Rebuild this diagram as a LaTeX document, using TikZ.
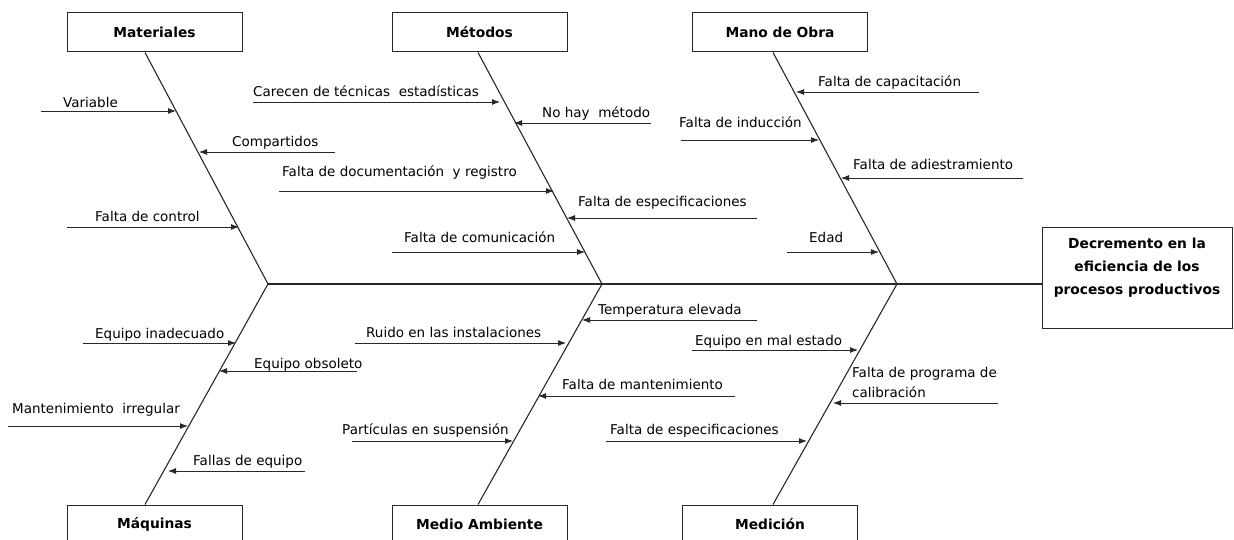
\documentclass[tikz,border=0pt]{standalone}
\usepackage{fontspec}
\setmainfont{DejaVu Sans}
\usetikzlibrary{arrows.meta}

\begin{document}
\begin{tikzpicture}[x=1pt,y=-1pt,
  categoria/.style={draw=linecolor,line width=1pt,minimum width=175pt,minimum height=39pt,inner sep=0pt,font=\fontsize{13.8}{16}\selectfont\bfseries},
  causa/.style={anchor=base west,inner sep=0pt,align=left,font=\fontsize{13.5}{20}\selectfont},
  espina/.style={draw=linecolor,line width=1.1pt},
  flecha/.style={draw=linecolor,line width=0.9pt,-{Latex[length=8pt,width=6pt]}}]
\definecolor{linecolor}{RGB}{40,40,40}
\clip (0,0) rectangle (1234,540);
% categorias
\node [categoria] (materiales) at (154.5,32.5) {Materiales};
\node [categoria] (metodos) at (479.5,32.5) {Métodos};
\node [categoria] (manoobra) at (780,32.5) {Mano de Obra};
\node [categoria] (maquinas) at (154.5,524.5) {Máquinas};
\node [categoria] (medioamb) at (479.5,524.5) {Medio Ambiente};
\node [categoria] (medicion) at (770,524.5) {Medición};
\node [draw=linecolor,line width=1pt,minimum width=190pt,minimum height=100pt,inner sep=0pt,align=center,font=\fontsize{13.8}{23}\selectfont\bfseries] (efecto) at (1137,278) {Decremento en la\\eficiencia de los\\procesos productivos\\ \mbox{}};
% espinas
\coordinate (j1) at (268,284);
\coordinate (j2) at (602,284);
\coordinate (j3) at (897,284);
\draw [espina] (j1) -- (j1 -| efecto.west);
\draw [espina] ([xshift=-9.5pt]materiales.south) -- (j1) -- ([xshift=-9.5pt]maquinas.north);
\draw [espina] ([xshift=-1.5pt]metodos.south) -- (j2) -- ([xshift=-1.5pt]medioamb.north);
\draw [espina] ([xshift=-7pt]manoobra.south) -- (j3) -- ([xshift=3pt]medicion.north);
% Materiales
\coordinate (variable-a) at (41,111); \coordinate (variable-b) at (176,111);
\draw [flecha] (variable-a) -- (variable-b);
\node [causa] (variable) at (63,108) {Variable};
\coordinate (compartidos-a) at (335,152); \coordinate (compartidos-b) at (199,152);
\draw [flecha] (compartidos-a) -- (compartidos-b);
\node [causa] (compartidos) at (232,147) {Compartidos};
\coordinate (control-a) at (67,227); \coordinate (control-b) at (239,227);
\draw [flecha] (control-a) -- (control-b);
\node [causa] (control) at (95,222) {Falta de control};
% Metodos
\coordinate (tecnicas-a) at (253,102); \coordinate (tecnicas-b) at (500,102);
\draw [flecha] (tecnicas-a) -- (tecnicas-b);
\node [causa] (tecnicas) at (253,97) {Carecen de técnicas~ estadísticas};
\coordinate (metodo-a) at (651,123); \coordinate (metodo-b) at (514,123);
\draw [flecha] (metodo-a) -- (metodo-b);
\node [causa] (metodo) at (542,118) {No hay~ método};
\coordinate (registro-a) at (279,191); \coordinate (registro-b) at (554,191);
\draw [flecha] (registro-a) -- (registro-b);
\node [causa] (registro) at (282,177) {Falta de documentación~ y registro};
\coordinate (espmet-a) at (757,218); \coordinate (espmet-b) at (567,218);
\draw [flecha] (espmet-a) -- (espmet-b);
\node [causa] (espmet) at (578,207) {Falta de especificaciones};
\coordinate (comunic-a) at (392,252); \coordinate (comunic-b) at (585,252);
\draw [flecha] (comunic-a) -- (comunic-b);
\node [causa] (comunic) at (404,243) {Falta de comunicación};
% Mano de Obra
\coordinate (capacit-a) at (979,92); \coordinate (capacit-b) at (796,92);
\draw [flecha] (capacit-a) -- (capacit-b);
\node [causa] (capacit) at (818,87) {Falta de capacitación};
\coordinate (induccion-a) at (681,140); \coordinate (induccion-b) at (819,140);
\draw [flecha] (induccion-a) -- (induccion-b);
\node [causa] (induccion) at (679,128) {Falta de inducción};
\coordinate (adiestr-a) at (1023,178); \coordinate (adiestr-b) at (841,178);
\draw [flecha] (adiestr-a) -- (adiestr-b);
\node [causa] (adiestr) at (853,170) {Falta de adiestramiento};
\coordinate (edad-a) at (787,252); \coordinate (edad-b) at (879,252);
\draw [flecha] (edad-a) -- (edad-b);
\node [causa] (edad) at (809,243) {Edad};
% Maquinas
\coordinate (inadec-a) at (83,343); \coordinate (inadec-b) at (236,343);
\draw [flecha] (inadec-a) -- (inadec-b);
\node [causa] (inadec) at (95,338) {Equipo inadecuado};
\coordinate (obsoleto-a) at (357,371); \coordinate (obsoleto-b) at (219,371);
\draw [flecha] (obsoleto-a) -- (obsoleto-b);
\node [causa] (obsoleto) at (254,368) {Equipo obsoleto};
\coordinate (irregular-a) at (8,426); \coordinate (irregular-b) at (188,426);
\draw [flecha] (irregular-a) -- (irregular-b);
\node [causa] (irregular) at (12,413) {Mantenimiento~ irregular};
\coordinate (fallas-a) at (305,471); \coordinate (fallas-b) at (168,471);
\draw [flecha] (fallas-a) -- (fallas-b);
\node [causa] (fallas) at (193,465) {Fallas de equipo};
% Medio Ambiente
\coordinate (temper-a) at (757,320); \coordinate (temper-b) at (582,320);
\draw [flecha] (temper-a) -- (temper-b);
\node [causa] (temper) at (598,314) {Temperatura elevada};
\coordinate (ruido-a) at (355,343); \coordinate (ruido-b) at (566,343);
\draw [flecha] (ruido-a) -- (ruido-b);
\node [causa] (ruido) at (366,337) {Ruido en las instalaciones};
\coordinate (manten-a) at (735,396); \coordinate (manten-b) at (538,396);
\draw [flecha] (manten-a) -- (manten-b);
\node [causa] (manten) at (562,389) {Falta de mantenimiento};
\coordinate (particulas-a) at (352,441); \coordinate (particulas-b) at (513,441);
\draw [flecha] (particulas-a) -- (particulas-b);
\node [causa] (particulas) at (342,434) {Partículas en suspensión};
% Medicion
\coordinate (malestado-a) at (692,350); \coordinate (malestado-b) at (858,350);
\draw [flecha] (malestado-a) -- (malestado-b);
\node [causa] (malestado) at (695,345) {Equipo en mal estado};
\coordinate (calibr-a) at (998,403); \coordinate (calibr-b) at (833,403);
\draw [flecha] (calibr-a) -- (calibr-b);
\node [causa] (calibr) at (852,397) {Falta de programa de\\calibración};
\coordinate (espmed-a) at (606,441); \coordinate (espmed-b) at (807,441);
\draw [flecha] (espmed-a) -- (espmed-b);
\node [causa] (espmed) at (610,434) {Falta de especificaciones};
\end{tikzpicture}
\end{document}
